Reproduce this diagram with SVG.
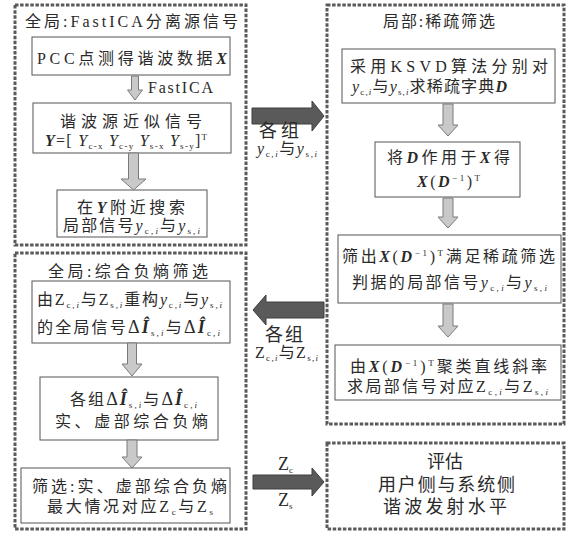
<svg xmlns="http://www.w3.org/2000/svg" width="567" height="533" viewBox="0 0 567 533">
<style>
.t{font-family:"Liberation Serif","Noto Sans CJK SC",serif;font-size:16px;fill:#2a2a2a}
.l{font-size:18px}
.m{text-anchor:middle}
.i{font-style:italic}
.bi{font-style:italic;font-weight:bold}
.s{font-size:9px}
.h{font-size:18px}
.dash{fill:none;stroke:#5a5a5a;stroke-width:3;stroke-dasharray:3.5 1.6}
.box{fill:#fff;stroke:#555;stroke-width:1}
.ga{fill:#c9c9c9;stroke:#7a7a7a;stroke-width:1}
.da{fill:#5a5a5a;stroke:#3e3e3e;stroke-width:1}
</style>
<rect width="567" height="533" fill="#fff"/>

<g id="global-fastica">
<rect class="dash" x="15" y="5" width="231" height="240"/>
<text class="t" x="25" y="27" textLength="213">全局:FastICA分离源信号</text>
</g>
<g id="pcc">
<rect class="box" x="32" y="37" width="198" height="38"/>
<text class="t" x="37" y="64" textLength="190">PCC点测得谐波数据<tspan class="bi">X</tspan></text>
</g>
<g id="source">
<rect class="box" x="33" y="103" width="198" height="50"/>
<text class="t" x="60" y="127" textLength="142">谐波源近似信号</text>
<text class="t" x="45" y="146" textLength="162"><tspan class="bi">Y</tspan>=[ <tspan class="i">Y</tspan><tspan class="s" dy="3">c-x</tspan> <tspan class="i" dy="-3">Y</tspan><tspan class="s" dy="3">c-y</tspan> <tspan class="i" dy="-3">Y</tspan><tspan class="s" dy="3">s-x</tspan> <tspan class="i" dy="-3">Y</tspan><tspan class="s" dy="3">s-y</tspan><tspan dy="-3">]</tspan><tspan class="s" dy="-6">T</tspan></text>
</g>
<g id="search">
<rect class="box" x="57" y="190" width="150" height="47"/>
<text class="t" x="77" y="213" textLength="108">在<tspan class="bi">Y</tspan>附近搜索</text>
<text class="t" x="63" y="231" textLength="137">局部信号<tspan class="i">y</tspan><tspan class="s" dy="3">c,</tspan><tspan class="s i">i</tspan><tspan dy="-3">与</tspan><tspan class="i">y</tspan><tspan class="s" dy="3">s,</tspan><tspan class="s i">i</tspan></text>
</g>

<g id="global-negentropy">
<rect class="dash" x="15" y="253" width="231" height="276"/>
<text class="t" x="48" y="277" textLength="160">全局:综合负熵筛选</text>
</g>
<g id="reconstruct">
<rect class="box" x="32" y="281" width="198" height="62"/>
<text class="t" x="37" y="305" textLength="185">由Z<tspan class="s" dy="3">c,</tspan><tspan class="s i">i</tspan><tspan dy="-3">与Z</tspan><tspan class="s" dy="3">s,</tspan><tspan class="s i">i</tspan><tspan dy="-3">重构</tspan><tspan class="i">y</tspan><tspan class="s" dy="3">c,</tspan><tspan class="s i">i</tspan><tspan dy="-3">与</tspan><tspan class="i">y</tspan><tspan class="s" dy="3">s,</tspan><tspan class="s i">i</tspan></text>
<text class="t" x="37" y="333" textLength="183">的全局信号<tspan class="h">Δ</tspan><tspan class="h bi">Î</tspan><tspan class="s" dy="3">s,</tspan><tspan class="s i">i</tspan><tspan dy="-3">与</tspan><tspan class="h">Δ</tspan><tspan class="h bi">Î</tspan><tspan class="s" dy="3">c,</tspan><tspan class="s i">i</tspan></text>
</g>
<g id="negentropy">
<rect class="box" x="40" y="377" width="178" height="63"/>
<text class="t" x="70" y="405" textLength="127">各组<tspan class="h">Δ</tspan><tspan class="h bi">Î</tspan><tspan class="s" dy="3">s,</tspan><tspan class="s i">i</tspan><tspan dy="-3">与</tspan><tspan class="h">Δ</tspan><tspan class="h bi">Î</tspan><tspan class="s" dy="3">c,</tspan><tspan class="s i">i</tspan></text>
<text class="t" x="55" y="427" textLength="153">实、虚部综合负熵</text>
</g>
<g id="select">
<rect class="box" x="21" y="468" width="209" height="55"/>
<text class="t" x="32" y="492" textLength="195">筛选:实、虚部综合负熵</text>
<text class="t" x="47" y="512" textLength="166">最大情况对应Z<tspan class="s" dy="3">c</tspan><tspan dy="-3">与Z</tspan><tspan class="s" dy="3">s</tspan></text>
</g>

<g id="local-sparse">
<rect class="dash" x="327" y="5" width="237" height="419"/>
<text class="t" x="383" y="27" textLength="112">局部:稀疏筛选</text>
</g>
<g id="ksvd">
<rect class="box" x="342" y="49" width="213" height="54"/>
<text class="t" x="350" y="72" textLength="198">采用KSVD算法分别对</text>
<text class="t" x="352" y="92" textLength="155"><tspan class="i">y</tspan><tspan class="s" dy="3">c,</tspan><tspan class="s i">i</tspan><tspan dy="-3">与</tspan><tspan class="i">y</tspan><tspan class="s" dy="3">s,</tspan><tspan class="s i">i</tspan><tspan dy="-3">求稀疏字典</tspan><tspan class="bi">D</tspan></text>
</g>
<g id="apply">
<rect class="box" x="375" y="142" width="145" height="55"/>
<text class="t" x="387" y="163" textLength="123">将<tspan class="bi">D</tspan>作用于<tspan class="bi">X</tspan>得</text>
<text class="t" x="417" y="187" textLength="63"><tspan class="bi">X</tspan>(<tspan class="bi">D</tspan><tspan class="s" dy="-6">−1</tspan><tspan dy="6">)</tspan><tspan class="s" dy="-6">T</tspan></text>
</g>
<g id="filter">
<rect class="box" x="338" y="235" width="223" height="68"/>
<text class="t" x="342" y="262" textLength="213">筛出<tspan class="bi">X</tspan>(<tspan class="bi">D</tspan><tspan class="s" dy="-6">−1</tspan><tspan dy="6">)</tspan><tspan class="s" dy="-6">T</tspan><tspan dy="6">满足稀疏筛选</tspan></text>
<text class="t" x="352" y="288" textLength="195">判据的局部信号<tspan class="i">y</tspan><tspan class="s" dy="3">c,</tspan><tspan class="s i">i</tspan><tspan dy="-3">与</tspan><tspan class="i">y</tspan><tspan class="s" dy="3">s,</tspan><tspan class="s i">i</tspan></text>
</g>
<g id="cluster">
<rect class="box" x="335" y="345" width="226" height="55"/>
<text class="t" x="350" y="372" textLength="197">由<tspan class="bi">X</tspan>(<tspan class="bi">D</tspan><tspan class="s" dy="-6">−1</tspan><tspan dy="6">)</tspan><tspan class="s" dy="-6">T</tspan><tspan dy="6">聚类直线斜率</tspan></text>
<text class="t" x="347" y="392" textLength="201">求局部信号对应Z<tspan class="s" dy="3">c,</tspan><tspan class="s i">i</tspan><tspan dy="-3">与Z</tspan><tspan class="s" dy="3">s,</tspan><tspan class="s i">i</tspan></text>
</g>

<g id="evaluate">
<rect class="dash" x="327" y="443" width="237" height="86"/>
<text class="t l m" x="445" y="468">评估</text>
<text class="t l" x="378" y="491" textLength="137">用户侧与系统侧</text>
<text class="t l" x="383" y="513" textLength="124">谐波发射水平</text>
</g>

<g id="connectors">
<polygon class="ga" points="131.5,76 138.5,76 138.5,90 142.5,90 135,100 127.5,90 131.5,90"/>
<text class="t" x="148" y="93" textLength="65">FastICA</text>
<polygon class="ga" points="128.5,153 138.5,153 138.5,179 146,179 133.5,190 121,179 128.5,179"/>
<polygon class="ga" points="127.5,343 136.5,343 136.5,364 142,364 132,376 122,364 127.5,364"/>
<polygon class="ga" points="127,440 137,440 137,457 142,457 132,468 122,457 127,457"/>
<polygon class="ga" points="443,104 453,104 453,125 458,125 448,136 438,125 443,125"/>
<polygon class="ga" points="443,198 453,198 453,217 458,217 448,228 438,217 443,217"/>
<polygon class="ga" points="443,304 453,304 453,326 458,326 448,337 438,326 443,326"/>

<polygon class="da" points="252,108 312,108 312,101 324,116 312,131 312,124 252,124"/>
<text class="t l" x="259" y="137" textLength="40">各组</text>
<text class="t" x="257" y="154" textLength="60"><tspan class="i">y</tspan><tspan class="s" dy="3">c,</tspan><tspan class="s i">i</tspan><tspan dy="-3">与</tspan><tspan class="i">y</tspan><tspan class="s" dy="3">s,</tspan><tspan class="s i">i</tspan></text>

<polygon class="da" points="324,302 266,302 266,295 253,310 266,325 266,318 324,318"/>
<text class="t l" x="265" y="341" textLength="38">各组</text>
<text class="t" x="255" y="358" textLength="63">Z<tspan class="s" dy="3">c,</tspan><tspan class="s i">i</tspan><tspan dy="-3">与Z</tspan><tspan class="s" dy="3">s,</tspan><tspan class="s i">i</tspan></text>

<polygon class="da" points="253,475 312,475 312,468 324,482 312,496 312,489 253,489"/>
<text class="t l" x="278" y="470">Z<tspan class="s" dy="3">c</tspan></text>
<text class="t l" x="278" y="506">Z<tspan class="s" dy="3">s</tspan></text>
</g>
</svg>
